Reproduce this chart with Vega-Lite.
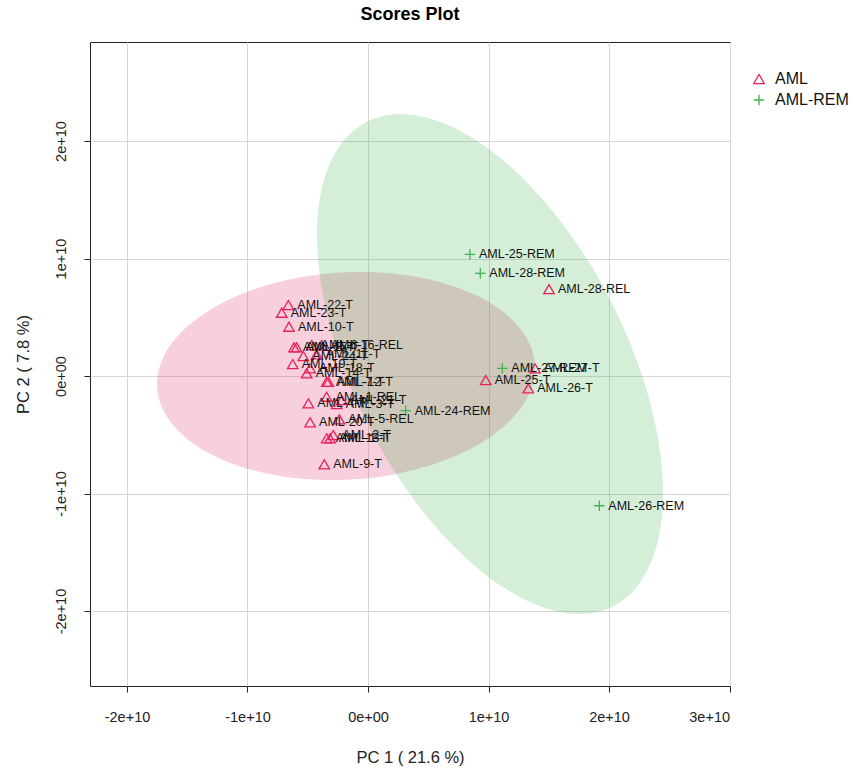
{
  "$schema": "https://vega.github.io/schema/vega-lite/v6.json",
  "width": 640,
  "height": 644,
  "autosize": "none",
  "padding": {"left": 90, "top": 42, "right": 125, "bottom": 88},
  "background": "white",
  "title": {"text": "Scores Plot", "fontSize": 18, "fontWeight": "bold", "font": "Liberation Sans", "color": "#000", "anchor": "middle", "offset": 18},
  "config": {
    "view": {"stroke": "#222", "strokeWidth": 1},
    "axis": {"labelFont": "Liberation Sans", "titleFont": "Liberation Sans", "labelFontSize": 14.5, "titleFontSize": 16.5, "titleFontWeight": "normal", "labelColor": "#222", "titleColor": "#222", "gridColor": "#d6d6d6", "gridWidth": 1, "tickColor": "#222", "domain": false, "tickSize": 6}
  },
  "datasets": {
    "ell": [
      {"g": "AML", "i": 0, "x": 1.3859e10, "y": 0.0681e10},
      {"g": "AML", "i": 1, "x": 1.3324e10, "y": 0.2942e10},
      {"g": "AML", "i": 2, "x": 1.1757e10, "y": 0.5003e10},
      {"g": "AML", "i": 3, "x": 0.9265e10, "y": 0.6723e10},
      {"g": "AML", "i": 4, "x": 0.6017e10, "y": 0.7984e10},
      {"g": "AML", "i": 5, "x": 0.2233e10, "y": 0.8701e10},
      {"g": "AML", "i": 6, "x": -0.1826e10, "y": 0.8826e10},
      {"g": "AML", "i": 7, "x": -0.5885e10, "y": 0.8349e10},
      {"g": "AML", "i": 8, "x": -0.9669e10, "y": 0.7302e10},
      {"g": "AML", "i": 9, "x": -1.2917e10, "y": 0.5759e10},
      {"g": "AML", "i": 10, "x": -1.5409e10, "y": 0.3823e10},
      {"g": "AML", "i": 11, "x": -1.6976e10, "y": 0.1626e10},
      {"g": "AML", "i": 12, "x": -1.7511e10, "y": -0.0681e10},
      {"g": "AML", "i": 13, "x": -1.6976e10, "y": -0.2942e10},
      {"g": "AML", "i": 14, "x": -1.5409e10, "y": -0.5003e10},
      {"g": "AML", "i": 15, "x": -1.2917e10, "y": -0.6723e10},
      {"g": "AML", "i": 16, "x": -0.9669e10, "y": -0.7984e10},
      {"g": "AML", "i": 17, "x": -0.5885e10, "y": -0.8701e10},
      {"g": "AML", "i": 18, "x": -0.1826e10, "y": -0.8826e10},
      {"g": "AML", "i": 19, "x": 0.2233e10, "y": -0.8349e10},
      {"g": "AML", "i": 20, "x": 0.6017e10, "y": -0.7302e10},
      {"g": "AML", "i": 21, "x": 0.9265e10, "y": -0.5759e10},
      {"g": "AML", "i": 22, "x": 1.1757e10, "y": -0.3823e10},
      {"g": "AML", "i": 23, "x": 1.3324e10, "y": -0.1626e10},
      {"g": "AML-REM", "i": 0, "x": 2.4481e10, "y": -0.9958e10},
      {"g": "AML-REM", "i": 1, "x": 2.3991e10, "y": -0.4868e10},
      {"g": "AML-REM", "i": 2, "x": 2.2557e10, "y": 0.0624e10},
      {"g": "AML-REM", "i": 3, "x": 2.0276e10, "y": 0.6142e10},
      {"g": "AML-REM", "i": 4, "x": 1.7303e10, "y": 1.1311e10},
      {"g": "AML-REM", "i": 5, "x": 1.3840e10, "y": 1.5780e10},
      {"g": "AML-REM", "i": 6, "x": 1.0124e10, "y": 1.9242e10},
      {"g": "AML-REM", "i": 7, "x": 0.6408e10, "y": 2.1462e10},
      {"g": "AML-REM", "i": 8, "x": 0.2945e10, "y": 2.2291e10},
      {"g": "AML-REM", "i": 9, "x": -0.0028e10, "y": 2.1668e10},
      {"g": "AML-REM", "i": 10, "x": -0.2309e10, "y": 1.9640e10},
      {"g": "AML-REM", "i": 11, "x": -0.3743e10, "y": 1.6342e10},
      {"g": "AML-REM", "i": 12, "x": -0.4233e10, "y": 1.2000e10},
      {"g": "AML-REM", "i": 13, "x": -0.3743e10, "y": 0.6910e10},
      {"g": "AML-REM", "i": 14, "x": -0.2309e10, "y": 0.1418e10},
      {"g": "AML-REM", "i": 15, "x": -0.0028e10, "y": -0.4100e10},
      {"g": "AML-REM", "i": 16, "x": 0.2945e10, "y": -0.9269e10},
      {"g": "AML-REM", "i": 17, "x": 0.6408e10, "y": -1.3738e10},
      {"g": "AML-REM", "i": 18, "x": 1.0124e10, "y": -1.7200e10},
      {"g": "AML-REM", "i": 19, "x": 1.3840e10, "y": -1.9420e10},
      {"g": "AML-REM", "i": 20, "x": 1.7303e10, "y": -2.0249e10},
      {"g": "AML-REM", "i": 21, "x": 2.0276e10, "y": -1.9626e10},
      {"g": "AML-REM", "i": 22, "x": 2.2557e10, "y": -1.7598e10},
      {"g": "AML-REM", "i": 23, "x": 2.3991e10, "y": -1.4300e10}
    ],
    "pts": [
      {"name": "AML-22-T", "group": "AML", "pc1": -0.661e10, "pc2": 0.604e10},
      {"name": "AML-23-T", "group": "AML", "pc1": -0.716e10, "pc2": 0.539e10},
      {"name": "AML-10-T", "group": "AML", "pc1": -0.656e10, "pc2": 0.420e10},
      {"name": "AML-15-T", "group": "AML", "pc1": -0.614e10, "pc2": 0.244e10},
      {"name": "AML-8-T", "group": "AML", "pc1": -0.592e10, "pc2": 0.244e10},
      {"name": "AML-6-T", "group": "AML", "pc1": -0.467e10, "pc2": 0.264e10},
      {"name": "AML-16-REL", "group": "AML", "pc1": -0.384e10, "pc2": 0.264e10},
      {"name": "AML-24-T", "group": "AML", "pc1": -0.537e10, "pc2": 0.170e10},
      {"name": "AML-11-T", "group": "AML", "pc1": -0.426e10, "pc2": 0.185e10},
      {"name": "AML-19-T", "group": "AML", "pc1": -0.625e10, "pc2": 0.102e10},
      {"name": "AML-18-T", "group": "AML", "pc1": -0.481e10, "pc2": 0.066e10},
      {"name": "AML-14-T", "group": "AML", "pc1": -0.509e10, "pc2": 0.023e10},
      {"name": "AML-7-T", "group": "AML", "pc1": -0.343e10, "pc2": -0.049e10},
      {"name": "AML-12-T", "group": "AML", "pc1": -0.329e10, "pc2": -0.049e10},
      {"name": "AML-1-REL", "group": "AML", "pc1": -0.343e10, "pc2": -0.176e10},
      {"name": "AML-4-T", "group": "AML", "pc1": -0.495e10, "pc2": -0.232e10},
      {"name": "AML-3-T", "group": "AML", "pc1": -0.260e10, "pc2": -0.238e10},
      {"name": "AML-21-T", "group": "AML", "pc1": -0.218e10, "pc2": -0.204e10},
      {"name": "AML-20-T", "group": "AML", "pc1": -0.481e10, "pc2": -0.394e10},
      {"name": "AML-5-REL", "group": "AML", "pc1": -0.238e10, "pc2": -0.369e10},
      {"name": "AML-2-T", "group": "AML", "pc1": -0.288e10, "pc2": -0.502e10},
      {"name": "AML-13-T", "group": "AML", "pc1": -0.343e10, "pc2": -0.530e10},
      {"name": "AML-1-T", "group": "AML", "pc1": -0.315e10, "pc2": -0.530e10},
      {"name": "AML-9-T", "group": "AML", "pc1": -0.363e10, "pc2": -0.751e10},
      {"name": "AML-28-REL", "group": "AML", "pc1": 1.502e10, "pc2": 0.740e10},
      {"name": "AML-25-T", "group": "AML", "pc1": 0.977e10, "pc2": -0.034e10},
      {"name": "AML-26-T", "group": "AML", "pc1": 1.330e10, "pc2": -0.105e10},
      {"name": "AML-27-T", "group": "AML", "pc1": 1.386e10, "pc2": 0.066e10},
      {"name": "AML-25-REM", "group": "AML-REM", "pc1": 0.846e10, "pc2": 1.036e10},
      {"name": "AML-28-REM", "group": "AML-REM", "pc1": 0.932e10, "pc2": 0.874e10},
      {"name": "AML-27-REM", "group": "AML-REM", "pc1": 1.115e10, "pc2": 0.066e10},
      {"name": "AML-24-REM", "group": "AML-REM", "pc1": 0.313e10, "pc2": -0.295e10},
      {"name": "AML-26-REM", "group": "AML-REM", "pc1": 1.920e10, "pc2": -1.104e10}
    ]
  },
  "layer": [
    {
      "data": {"name": "ell"},
      "transform": [{"filter": "datum.g == 'AML'"}],
      "mark": {"type": "line", "interpolate": "cardinal-closed", "fill": "#E0245E", "fillOpacity": 0.22, "strokeOpacity": 0},
      "encoding": {
        "x": {"field": "x", "type": "quantitative", "scale": {"domain": [-2.307e10, 3.004e10], "nice": false, "zero": false}, "axis": {"values": [-2e10, -1e10, 0, 1e10, 2e10, 3e10], "labelExpr": "datum.value == 0 ? '0e+00' : (datum.value / 1e10) + 'e+10'", "title": "PC 1 ( 21.6 %)", "labelPadding": 18, "titlePadding": 26, "grid": true}},
        "y": {"field": "y", "type": "quantitative", "scale": {"domain": [-2.638e10, 2.843e10], "nice": false, "zero": false}, "axis": {"values": [-2e10, -1e10, 0, 1e10, 2e10], "labelExpr": "datum.value == 0 ? '0e+00' : (datum.value / 1e10) + 'e+10'", "title": "PC 2 ( 7.8 %)", "labelAngle": -90, "labelAlign": "center", "labelBaseline": "bottom", "labelPadding": 16, "titlePadding": 22, "grid": true}},
        "order": {"field": "i", "type": "quantitative"}
      }
    },
    {
      "data": {"name": "ell"},
      "transform": [{"filter": "datum.g == 'AML-REM'"}],
      "mark": {"type": "line", "interpolate": "cardinal-closed", "fill": "#3CB34B", "fillOpacity": 0.22, "strokeOpacity": 0},
      "encoding": {
        "x": {"field": "x", "type": "quantitative"},
        "y": {"field": "y", "type": "quantitative"},
        "order": {"field": "i", "type": "quantitative"}
      }
    },
    {
      "data": {"name": "pts"},
      "mark": {"type": "point", "filled": false, "strokeWidth": 1.3, "size": 110, "opacity": 1},
      "encoding": {
        "x": {"field": "pc1", "type": "quantitative"},
        "y": {"field": "pc2", "type": "quantitative"},
        "color": {"field": "group", "type": "nominal", "scale": {"domain": ["AML", "AML-REM"], "range": ["#E8205A", "#3CB34B"]}, "legend": {"title": null, "orient": "none", "legendX": 661, "legendY": 29, "labelFont": "Liberation Sans", "labelFontSize": 16, "labelColor": "#111", "symbolStrokeWidth": 1.3, "symbolSize": 110, "rowPadding": 5, "labelOffset": 8}},
        "shape": {"field": "group", "type": "nominal", "scale": {"domain": ["AML", "AML-REM"], "range": ["triangle-up", "M-1,0H1M0,-1V1"]}}
      }
    },
    {
      "data": {"name": "pts"},
      "mark": {"type": "text", "align": "left", "baseline": "middle", "dx": 9, "fontSize": 12.5, "font": "Liberation Sans", "color": "#111"},
      "encoding": {
        "x": {"field": "pc1", "type": "quantitative"},
        "y": {"field": "pc2", "type": "quantitative"},
        "text": {"field": "name", "type": "nominal"}
      }
    }
  ]
}
